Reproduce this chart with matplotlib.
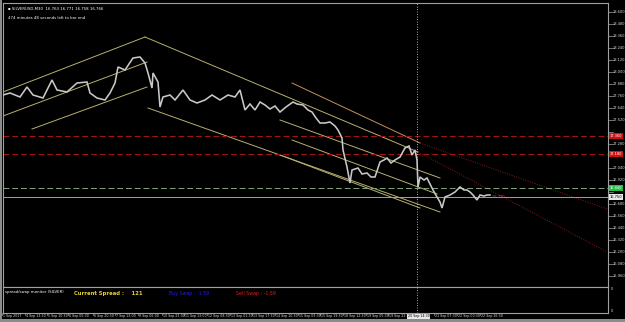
import matplotlib
matplotlib.use("Agg")
import matplotlib.pyplot as plt
from matplotlib.patches import Rectangle

# ---------------- data ----------------
bar_x = [3, 10, 20, 27, 33, 43, 52, 57, 67, 77, 87, 90, 97, 105, 110, 115, 118, 125, 133, 140,
         145, 148, 152, 153, 158, 160, 163, 170, 175, 183, 190, 197, 205, 212, 220, 228, 235, 240,
         245, 250, 255, 260, 265, 270, 275, 280, 286, 293, 297, 303, 308, 312, 316, 320, 325, 330,
         335, 338, 342, 343, 347, 350, 352, 358, 362, 367, 371, 375, 380, 384, 387, 391, 395, 400,
         405, 409, 412, 415, 417, 418, 420, 424, 427, 430, 433, 437, 440, 442, 445, 450, 455, 460,
         464, 467, 470, 473, 477, 480, 484, 487, 490]
close = [17.77, 17.79, 17.75, 17.85, 17.77, 17.74, 17.92, 17.82, 17.80, 17.89, 17.90, 17.79,
         17.74, 17.72, 17.79, 17.89, 18.05, 18.02, 18.14, 18.15, 18.09, 17.99, 17.84, 17.99,
         17.90, 17.65, 17.75, 17.77, 17.72, 17.82, 17.72, 17.69, 17.72, 17.77, 17.72, 17.77,
         17.75, 17.82, 17.62, 17.68, 17.62, 17.70, 17.67, 17.63, 17.66, 17.60, 17.65, 17.70,
         17.68, 17.67, 17.62, 17.60, 17.54, 17.49, 17.49, 17.50, 17.46, 17.42, 17.34, 17.22,
         17.05, 16.89, 17.02, 17.04, 16.98, 16.99, 16.95, 16.95, 17.10, 17.12, 17.14, 17.09,
         17.12, 17.15, 17.24, 17.26, 17.17, 17.22, 17.12, 16.85, 16.95, 16.92, 16.94, 16.88,
         16.82, 16.75, 16.70, 16.64, 16.75, 16.77, 16.80, 16.85, 16.82, 16.82, 16.80, 16.77,
         16.72, 16.77, 16.76, 16.77, 16.77]

# y-axis price ticks
price_ticks = [18.600 - 0.12 * i for i in range(24)]
y_top, y_bottom = 18.69, 15.85

# horizontal levels
red_levels = [17.36, 17.18]
green_level = 16.84
gray_level = 16.75
vline_x = 417

# trend lines: (x0, p0, x1, p1)
channel_lines = [
    (3, 17.80, 145, 18.35),
    (3, 17.56, 147, 18.10),
    (32, 17.43, 147, 17.85),
    (145, 18.35, 418, 17.20),
    (148, 17.64, 440, 16.60),
    (280, 17.52, 440, 16.94),
    (292, 17.32, 437, 16.78),
    (280, 17.17, 420, 16.64),
]
orange_lines = [(292, 17.89, 420, 17.29)]
dotted_red_lines = [(420, 17.29, 607, 16.63), (418, 17.20, 607, 16.20)]

# x tick labels
time_labels = ["1 Sep 2017", "4 Sep 13:30", "5 Sep 10:30", "6 Sep 05:30", "6 Sep 20:30",
               "7 Sep 13:00", "8 Sep 06:00", "10 Sep 23:00", "11 Sep 13:00", "12 Sep 08:30",
               "13 Sep 01:30", "13 Sep 17:30", "14 Sep 10:30", "15 Sep 03:30", "15 Sep 19:30",
               "18 Sep 12:30", "19 Sep 05:30", "19 Sep 22:30", "21 Sep 07:30", "22 Sep 00:30",
               "22 Sep 16:30"]
time_pos = [2, 25, 47, 68, 93, 115, 138, 162, 184, 207, 230, 252, 275, 298, 320, 343, 366,
            388, 434, 457, 480]
vline_label = "20 Sep 14:30"

# ---------------- figure ----------------
W, H = 625, 322
fig = plt.figure(figsize=(W / 100, H / 100), dpi=100, facecolor="black")

def fx(px):
    return px / W

def fy(py):
    return 1 - py / H

FRAME = "#a0a0a0"
TXT = "#d8d8d8"

# window borders (grey)
fig.patches.append(Rectangle((0, 0), fx(2), 1, transform=fig.transFigure, fc="#8c8c8c", ec="none"))
fig.patches.append(Rectangle((0, 0), 1, 3 / H, transform=fig.transFigure, fc="#8c8c8c", ec="none"))

# main chart axes
ax = fig.add_axes([fx(3), fy(287), fx(605), 284 / H], facecolor="black")
ax.set_xlim(3, 608)
ax.set_ylim(y_bottom, y_top)
ax.set_xticks([])
ax.set_yticks([])
for s in ax.spines.values():
    s.set_color(FRAME)
    s.set_linewidth(0.8)

for (x0, p0, x1, p1) in channel_lines:
    ax.plot([x0, x1], [p0, p1], color="#b8b070", lw=0.7)
for (x0, p0, x1, p1) in orange_lines:
    ax.plot([x0, x1], [p0, p1], color="#c8905a", lw=0.7)
for (x0, p0, x1, p1) in dotted_red_lines:
    ax.plot([x0, x1], [p0, p1], color="#8b1a1a", lw=0.7, ls=(0, (1, 1.5)))

for lv in red_levels:
    ax.axhline(lv, color="#a81414", lw=0.7, ls=(0, (6, 3)))
ax.axhline(green_level, color="#80a878", lw=0.7, ls=(0, (6, 3)))
ax.axhline(gray_level, color="#a0a0a0", lw=0.7)
ax.axvline(vline_x, color="#e0e0e0", lw=0.6, ls=(0, (1, 2)))

# price
ax.plot(bar_x, close, color="#c8c8c8", lw=1.15, solid_joinstyle="miter", zorder=5)

ax.text(491, gray_level, " %.3f" % close[-1], color="#c040c0", fontsize=2.6, va="center")

ax.text(0.008, 0.985, "\u25aa SILVERUSD,M30  16.763 16.771 16.758 16.766", transform=ax.transAxes,
        color="white", fontsize=2.8, va="top")
ax.text(0.008, 0.955, "474 minutes 48 seconds left to bar end", transform=ax.transAxes,
        color="white", fontsize=2.8, va="top")

# sub window
sub = fig.add_axes([fx(3), fy(313), fx(605), 26 / H], facecolor="black")
sub.set_xlim(3, 608)
sub.set_ylim(0, 1)
sub.set_xticks([])
sub.set_yticks([])
for s in sub.spines.values():
    s.set_color(FRAME)
    s.set_linewidth(0.8)
sub.axvline(vline_x, color="#e0e0e0", lw=0.6, ls=(0, (1, 2)))
sub.text(0.004, 0.82, "spread/swap monitor (SILVER)", transform=sub.transAxes, color="white",
         fontsize=2.8, va="center")
sub.text(0.118, 0.76, "Current Spread :    121", transform=sub.transAxes, color="#e8d030",
         fontsize=3.8, va="center", fontweight="bold")
sub.text(0.275, 0.76, "Buy Swap : -1.59", transform=sub.transAxes, color="#2020e8",
         fontsize=3.4, va="center")
sub.text(0.385, 0.76, "Sell Swap : -1.59", transform=sub.transAxes, color="#e02020",
         fontsize=3.4, va="center")

# right price axis
box_levels = red_levels + [green_level, gray_level]
for t in price_ticks:
    if y_bottom < t < y_top:
        yy = (t - y_bottom) / (y_top - y_bottom)
        ax.plot([1.0, 1.008], [yy, yy], transform=ax.transAxes, color=FRAME, lw=0.5,
                clip_on=False)
        if min(abs(t - b) for b in box_levels) < 0.045:
            continue
        ax.annotate("%.3f" % t, xy=(1.0, yy), xycoords="axes fraction", xytext=(3.5, 0),
                    textcoords="offset points", color=TXT, fontsize=2.6, va="center",
                    annotation_clip=False)

def level_box(val, fc, tc):
    yy = (val - y_bottom) / (y_top - y_bottom)
    ax.annotate("%.3f" % val, xy=(1.0, yy), xycoords="axes fraction", xytext=(1.5, 0),
                textcoords="offset points", color=tc, fontsize=2.6, va="center",
                annotation_clip=False,
                bbox=dict(boxstyle="square,pad=0.2", fc=fc, ec="none"))

for lv in red_levels:
    level_box(lv, "#d01010", "white")
level_box(green_level, "#20c040", "white")
level_box(gray_level, "#e8e8e8", "black")

# sub window right scale
sub.annotate("0", xy=(1.0, 0.92), xycoords="axes fraction", xytext=(2, 0), textcoords="offset points",
             color=TXT, fontsize=2.6, va="center", annotation_clip=False)
sub.annotate("0", xy=(1.0, 0.08), xycoords="axes fraction", xytext=(2, 0), textcoords="offset points",
             color=TXT, fontsize=2.6, va="center", annotation_clip=False)

# bottom time axis
for lab, p in zip(time_labels, time_pos):
    xx = (p - 3) / 605
    sub.annotate(lab, xy=(xx, 0), xycoords="axes fraction", xytext=(0.6, -2.4),
                 textcoords="offset points", color=TXT, fontsize=2.3, va="center",
                 ha="left", annotation_clip=False)
    sub.plot([xx, xx], [0, -0.08], transform=sub.transAxes, color=FRAME, lw=0.5, clip_on=False)
xv = (vline_x - 3) / 605
sub.annotate(vline_label, xy=(xv, 0), xycoords="axes fraction", xytext=(-6.5, -2.4),
             textcoords="offset points", color="black", fontsize=2.3, va="center", ha="left",
             annotation_clip=False, zorder=10,
             bbox=dict(boxstyle="square,pad=0.2", fc="#e8e8e8", ec="none"))

fig.savefig("out.png", dpi=100, facecolor=fig.get_facecolor())
